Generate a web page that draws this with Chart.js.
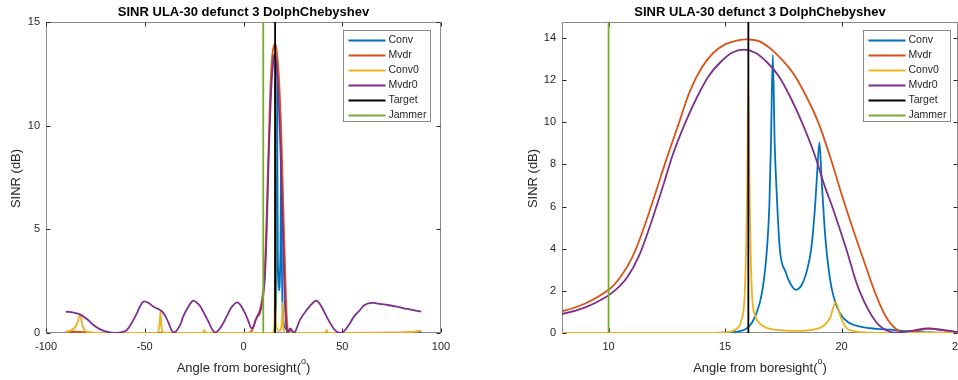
<!DOCTYPE html>
<html>
<head>
<meta charset="utf-8">
<script src="https://cdn.jsdelivr.net/npm/chart.js@4.4.1/dist/chart.umd.min.js"></script>
<style>
  html, body { margin: 0; padding: 0; background: #fff; }
  .panel { position: absolute; top: 0; width: 479px; height: 380px; }
  #izq { left: 0; }
  #der { left: 479px; }
</style>
</head>
<body>
<div class="panel" id="izq"><canvas id="graficaIzq" width="479" height="380"></canvas></div>
<div class="panel" id="der"><canvas id="graficaDer" width="479" height="380"></canvas></div>
<script>
/* DATOS */
const titulo = 'SINR ULA-30 defunct 3 DolphChebyshev';
const nombres = ['Conv', 'Mvdr', 'Conv0', 'Mvdr0', 'Target', 'Jammer'];
const colores = ['#0072BD', '#D95319', '#EDB120', '#7E2F8E', '#000000', '#77AC30'];

// [ángulo, SINR dB]
const conv = [[-90,0],[14,0],[15,0.02],[15.5,0.06],[16,0.28],[16.3,0.8],[16.6,2.0],[16.8,4.0],[16.9,6.0],
  [16.97,9.0],[17.05,13.2],[17.13,9.0],[17.21,6.8],[17.35,4.0],[17.6,2.9],[17.8,2.35],[18.05,2.05],[18.3,2.3],
  [18.5,2.9],[18.7,4.0],[18.85,5.8],[18.95,7.5],[19.05,9.05],[19.15,7.2],[19.3,4.6],[19.45,3.0],[19.6,2.0],
  [19.9,1.0],[20.3,0.5],[20.8,0.3],[21.5,0.2],[22.2,0.15],[22.6,0.1],[23.2,0.05],[24,0.02],[25,0],[90,0]];

const mvdr = [[-90,0.06],[-85,0.06],[-80,0.04],[-76,0.01],[-70,0],[0,0],[3,0.02],[4,0.08],[5,0.28],[6,0.58],
  [7,0.8],[8,1.03],[9,1.4],[10,2.05],[10.5,2.65],[11,3.55],[11.5,4.95],[12,6.6],[12.5,8.3],[13,9.9],[13.5,11.5],
  [14,12.6],[14.5,13.3],[15,13.7],[15.5,13.88],[16,13.93],[16.5,13.83],[17,13.45],[17.5,12.9],[18,12.2],
  [18.5,11.2],[19,10.0],[19.5,8.4],[20,6.6],[20.5,4.9],[21,3.3],[21.5,1.75],[22,0.6],[22.5,0.08],[23,0.05],
  [23.7,0.2],[24.5,0.1],[25.5,0],[80,0.02],[85,0.05],[90,0.1]];

const conv0 = [[-90,0.05],[-88,0.1],[-85.5,0.25],[-84,0.5],[-83.2,0.8],[-82.8,0.88],[-82.2,0.7],[-81.5,0.35],
  [-80,0.1],[-78,0.03],[-75,0.01],[-44,0.01],[-42.8,0.2],[-42.2,0.8],[-42,1.05],[-41.7,0.5],[-41.2,0.1],[-40,0.02],
  [-21,0.01],[-20.2,0.06],[-19.8,0.15],[-19.4,0.05],[-18.5,0.01],[14,0],[15,0.03],[15.5,0.2],[15.7,0.6],
  [15.85,2.0],[15.95,7],[16,12],[16.05,7],[16.15,2.0],[16.3,0.8],[16.5,0.45],[17,0.18],[18,0.1],[18.8,0.16],
  [19.2,0.32],[19.5,0.7],[19.75,1.45],[19.95,0.8],[20.2,0.25],[20.6,0.08],[21,0.03],[22,0],[41,0.01],
  [41.8,0.08],[42.1,0.15],[42.5,0.05],[43.5,0.01],[80,0.02],[85,0.05],[90,0.1]];

const mvdr0 = [[-90,1.03],[-86,0.98],[-82.8,0.9],[-79,0.65],[-76,0.39],[-72,0.15],[-69,0.05],[-66,0],[-64,0],
  [-61,0.05],[-59,0.15],[-56.5,0.5],[-54,0.95],[-52,1.35],[-50.4,1.52],[-48,1.45],[-45.7,1.28],[-43,1.15],
  [-41.4,1.05],[-39.5,0.8],[-38,0.5],[-36.5,0.15],[-35.5,0.03],[-34,0.1],[-32,0.4],[-30.5,0.8],[-28,1.25],
  [-25.5,1.56],[-23.5,1.45],[-22,1.3],[-20.4,1.03],[-18,0.6],[-16,0.2],[-14.5,0.03],[-13,0.1],[-11,0.35],
  [-8.5,0.8],[-6,1.25],[-3.5,1.47],[-2,1.4],[0,1.1],[2.4,0.6],[3.3,0.35],[4.1,0.23],[5,0.3],[6,0.6],[7,0.8],
  [8,0.9],[9,1.22],[9.8,1.65],[10.3,2.05],[10.8,2.65],[11.3,3.65],[11.8,5.15],[12.3,6.85],[12.8,8.6],[13.3,10.0],
  [13.8,11.2],[14.3,12.2],[14.8,12.85],[15.3,13.3],[15.8,13.45],[16.3,13.3],[16.8,12.85],[17.3,12.2],[17.8,11.2],
  [18.3,10.0],[18.8,8.6],[19.3,6.9],[19.6,6.0],[20.2,4.0],[20.77,2.0],[21.5,0.5],[22.2,0.02],[23,0.1],[23.7,0.22],
  [24.5,0.12],[25.8,0],[28.6,0.63],[32,1.11],[36.7,1.56],[39,1.35],[42.1,0.79],[45,0.3],[47.2,0.06],[49.7,0],
  [51.5,0.15],[53.9,0.47],[56,0.8],[59,1.11],[61,1.33],[63.2,1.43],[66,1.45],[69.1,1.4],[73,1.35],[77.6,1.27],
  [82,1.18],[86,1.1],[90,1.03]];

const target = [[16,0],[16,15]];
const jammer = [[10,0],[10,15]];
const series = [conv, mvdr, conv0, mvdr0, target, jammer];
// modo de interpolación por serie (picos agudos vs. curvas suaves)
const suavizado = ['monotone', 'suave', 'monotone', 'suave', 'recta', 'recta'];

// ejes de cada subgráfica
const limXIzq = [-100, 100], limYIzq = [0, 15];
const ticksXIzq = [-100, -50, 0, 50, 100], ticksYIzq = [0, 5, 10, 15];
const limXDer = [8, 25], limYDer = [0, 14.76];
const ticksXDer = [10, 15, 20, 25], ticksYDer = [0, 2, 4, 6, 8, 10, 12, 14];

const FUENTE = "'Liberation Sans', Arial, sans-serif";

/* Plugin: caja, marcas hacia dentro, títulos y leyenda al estilo MATLAB */
const estiloMatlab = {
    id: 'estiloMatlab',
    beforeDatasetsDraw(chart) {
        const { ctx, chartArea: a, scales } = chart;
        const izq = Math.round(a.left) + 0.5, der = Math.round(a.right) - 0.5;
        const arr = Math.round(a.top) + 0.5, abj = Math.round(a.bottom) - 0.5;
        ctx.save();
        ctx.strokeStyle = '#8a8a8a';
        ctx.lineWidth = 1;
        ctx.strokeRect(izq, arr, der - izq, abj - arr);
        ctx.strokeStyle = '#262626';
        ctx.beginPath();
        scales.x.ticks.forEach(t => {
            const px = Math.round(scales.x.getPixelForValue(t.value)) + 0.5;
            ctx.moveTo(px, abj); ctx.lineTo(px, abj - 4);
            ctx.moveTo(px, arr); ctx.lineTo(px, arr + 4);
        });
        scales.y.ticks.forEach(t => {
            const py = Math.round(scales.y.getPixelForValue(t.value)) + 0.5;
            ctx.moveTo(izq, py); ctx.lineTo(izq + 4, py);
            ctx.moveTo(der, py); ctx.lineTo(der - 4, py);
        });
        ctx.stroke();
        ctx.restore();
    },
    afterDraw(chart, args, opts) {
        const { ctx, chartArea: a } = chart;
        const cx = (a.left + a.right) / 2;
        ctx.save();
        // título
        ctx.fillStyle = '#000';
        ctx.font = 'bold 13px ' + FUENTE;
        ctx.textAlign = 'center';
        ctx.textBaseline = 'middle';
        ctx.fillText(titulo, cx, 12);

        // etiqueta eje x con superíndice
        ctx.fillStyle = '#262626';
        const base = 'Angle from boresight(';
        ctx.font = '13px ' + FUENTE;
        const w1 = ctx.measureText(base).width;
        const w3 = ctx.measureText(')').width;
        ctx.font = '9px ' + FUENTE;
        const w2 = ctx.measureText('o').width;
        let x0 = cx - (w1 + w2 + w3) / 2;
        ctx.textAlign = 'left';
        ctx.font = '13px ' + FUENTE;
        ctx.fillText(base, x0, 368);
        ctx.font = '9px ' + FUENTE;
        ctx.fillText('o', x0 + w1, 362);
        ctx.font = '13px ' + FUENTE;
        ctx.fillText(')', x0 + w1 + w2, 368);

        // etiqueta eje y
        ctx.save();
        ctx.translate(opts.etiquetaYx, (a.top + a.bottom) / 2 + 1);
        ctx.rotate(-Math.PI / 2);
        ctx.textAlign = 'center';
        ctx.fillText('SINR (dB)', 0, 0);
        ctx.restore();

        // leyenda
        const anchoL = 87, altoL = 91, fila = 15;
        const lx = Math.round(a.right - opts.margenLeyenda - anchoL) + 0.5;
        const ly = Math.round(a.top + 8) + 0.5;
        ctx.fillStyle = '#fff';
        ctx.fillRect(lx, ly, anchoL, altoL);
        ctx.strokeStyle = '#8a8a8a';
        ctx.lineWidth = 1;
        ctx.strokeRect(lx, ly, anchoL, altoL);
        ctx.font = '10.5px ' + FUENTE;
        ctx.textBaseline = 'middle';
        nombres.forEach((n, i) => {
            const yy = ly + 10 + i * fila;
            ctx.strokeStyle = colores[i];
            ctx.lineWidth = 2;
            ctx.beginPath();
            ctx.moveTo(lx + 5, yy); ctx.lineTo(lx + 42, yy);
            ctx.stroke();
            ctx.fillStyle = '#262626';
            ctx.fillText(n, lx + 45, yy);
        });
        ctx.restore();
    }
};

function crearGrafica(idCanvas, limX, limY, ticksX, ticksY, anchoY, padDer, etiquetaYx, margenLeyenda) {
    const datasets = series.map((s, i) => ({
        label: nombres[i],
        data: s.map(p => ({ x: p[0], y: p[1] })),
        borderColor: colores[i],
        borderWidth: 1.8,
        pointRadius: 0,
        tension: suavizado[i] === 'suave' ? 0.35 : 0,
        cubicInterpolationMode: suavizado[i] === 'monotone' ? 'monotone' : 'default',
        order: series.length - 1 - i
    }));

    return new Chart(document.getElementById(idCanvas), {
        type: 'line',
        data: { datasets },
        options: {
            responsive: false,
            animation: false,
            events: [],
            layout: { padding: { top: 22, right: padDer, left: 0, bottom: 0 } },
            plugins: {
                legend: { display: false },
                tooltip: { enabled: false },
                estiloMatlab: { etiquetaYx, margenLeyenda }
            },
            scales: {
                x: {
                    type: 'linear',
                    min: limX[0], max: limX[1],
                    afterBuildTicks: s => { s.ticks = ticksX.map(v => ({ value: v })); },
                    afterFit: s => { s.height = 47; s.paddingLeft = 0; s.paddingRight = 0; },
                    ticks: { color: '#262626', font: { family: FUENTE, size: 11 }, padding: 7, maxRotation: 0, autoSkip: false },
                    grid: { display: false, drawTicks: false },
                    border: { display: false }
                },
                y: {
                    type: 'linear',
                    min: limY[0], max: limY[1],
                    afterBuildTicks: s => { s.ticks = ticksY.map(v => ({ value: v })); },
                    afterFit: s => { s.width = anchoY; },
                    ticks: { color: '#262626', font: { family: FUENTE, size: 11 }, padding: 6, autoSkip: false },
                    grid: { display: false, drawTicks: false },
                    border: { display: false }
                }
            }
        },
        plugins: [estiloMatlab]
    });
}

crearGrafica('graficaIzq', limXIzq, limYIzq, ticksXIzq, ticksYIzq, 46, 38, 16, 11);
crearGrafica('graficaDer', limXDer, limYDer, ticksXDer, ticksYDer, 83, 0, 54, 8);
</script>
</body>
</html>
